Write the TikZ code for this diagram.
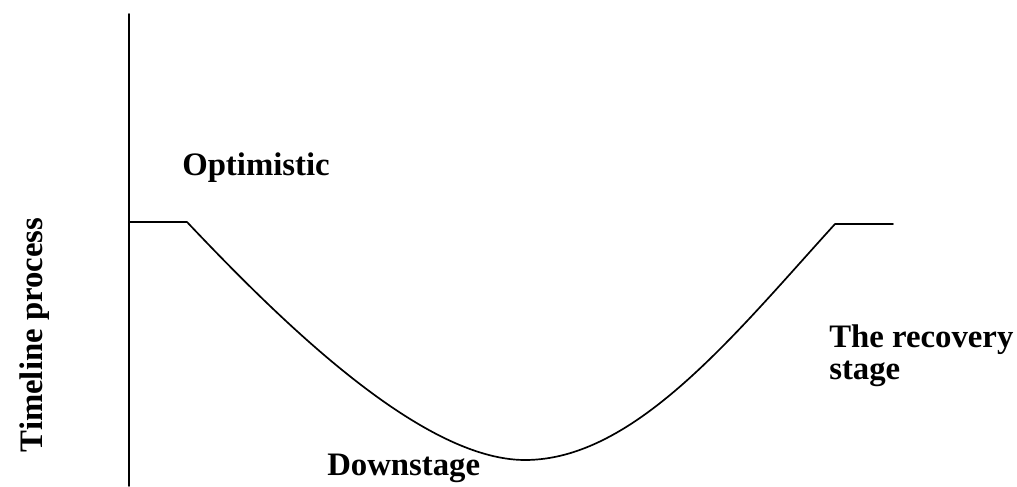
\documentclass[tikz,border=0pt]{standalone}
\usepackage{fontspec}
\setmainfont{Liberation Serif}
\tikzset{
  stagelabel/.style={font=\fontsize{23.3pt}{23pt}\selectfont\bfseries, inner sep=0pt, align=left}
}
\begin{document}
\begin{tikzpicture}[x=0.025cm,y=0.025cm,line cap=round,line join=round]
  \useasboundingbox (0,0) rectangle (1017,486);
  \draw[line width=1.2pt] (129,472) -- (129,0);
  \draw[line width=1.2pt] (129,264) -- (187,264)
    .. controls (277,169) and (420,26) .. (525,26)
    .. controls (635,26) and (735,152) .. (835,262) -- (893,262);
  \node[stagelabel, anchor=base west] (optimistic) at (182,310) {Optimistic};
  \node[stagelabel, anchor=base west] (downstage) at (327,11) {Downstage};
  \node[stagelabel, anchor=base west] (recovery) at (829,106) {The recovery\\stage};
  \node[stagelabel, anchor=base, rotate=90] (timeline) at (42,151) {Timeline process};
 \end{tikzpicture}
\end{document}
